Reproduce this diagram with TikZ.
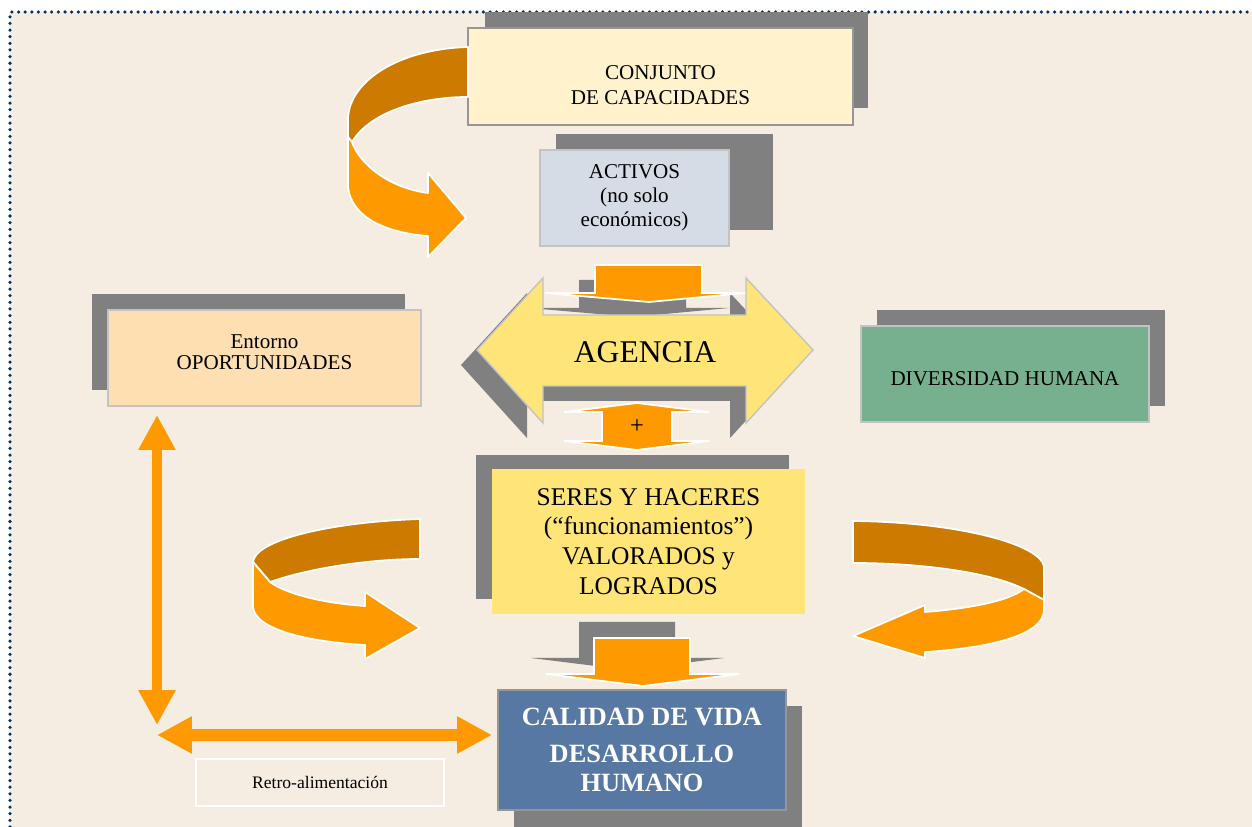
\documentclass[tikz,border=0pt]{standalone}
\usepackage{fontspec}
\setmainfont{Liberation Serif}
\usepackage{tikz}
\usetikzlibrary{arrows.meta}
\definecolor{bgbeige}{RGB}{245,237,225}
\definecolor{dotnavy}{RGB}{0,48,100}
\definecolor{shadowgrey}{RGB}{128,128,128}
\definecolor{borderline}{RGB}{150,150,150}
\definecolor{lightborder}{RGB}{195,195,195}
\definecolor{paleyellow}{RGB}{255,242,204}
\definecolor{palesteel}{RGB}{214,220,229}
\definecolor{peach}{RGB}{254,223,178}
\definecolor{sagegreen}{RGB}{118,176,142}
\definecolor{sunyellow}{RGB}{255,229,120}
\definecolor{slateblue}{RGB}{88,120,164}
\definecolor{brightorange}{RGB}{255,153,0}
\definecolor{darkorange}{RGB}{204,122,0}
\tikzset{
  base/.style={font=\fontsize{12}{14.4}\selectfont, align=center, inner sep=2pt, text=black},
  box/.style={base, rectangle, draw=borderline, line width=0.8pt},
  lightbox/.style={box, draw=lightborder},
  shadowfill/.style={fill=shadowgrey, draw=none},
  dotborder/.style={draw=dotnavy, line width=2pt, line cap=round, dash pattern=on 0pt off 3.78pt},
  agencyarr/.style={fill=sunyellow, draw=lightborder, line width=0.8pt, line join=miter},
  blockarr/.style={fill=brightorange, draw=white, line width=1pt},
  ribbonback/.style={fill=darkorange, draw=white, line width=1pt, line join=round},
  ribbonfront/.style={fill=brightorange, draw=white, line width=1pt, line join=round},
  fatarr/.style={draw=brightorange, line width=5.6pt, arrows={Triangle[length=0.7cm,width=0.7cm]-Triangle[length=0.7cm,width=0.7cm]}},
}

\begin{document}
\begin{tikzpicture}[x=0.02cm, y=-0.02cm]
  \useasboundingbox (0,0) rectangle (1252,827);
  \fill[bgbeige] (10,12) rectangle (1252,827);
  \draw[dotborder] (10,827) -- (10,12) -- (1252,12);

  % shadows behind the boxes
  \fill[shadowfill] (485,12) rectangle (868,108);
  \fill[shadowfill] (556,134) rectangle (773,230);
  \fill[shadowfill] (92,294) rectangle (405,390);
  \fill[shadowfill] (877,310) rectangle (1165,406);
  \fill[shadowfill] (476,455) rectangle (789,599);
  \fill[shadowfill] (514,706) rectangle (802,827);

  \node[box, fill=paleyellow, minimum width=7.7cm, minimum height=1.94cm] (conj) at (660.5,76.5) {\rule{0pt}{18pt}CONJUNTO\\DE CAPACIDADES};
  \node[lightbox, fill=palesteel, font=\fontsize{12}{13.6}\selectfont, minimum width=3.78cm, minimum height=1.92cm] (act) at (634.5,198) {ACTIVOS\\(no solo\\económicos)};
  \node[lightbox, fill=peach, minimum width=6.26cm, minimum height=1.92cm] (ent) at (264.5,358) {Entorno\\[-2pt]OPORTUNIDADES\rule[-6.8pt]{0pt}{0pt}};
  \node[lightbox, fill=sagegreen, minimum width=5.76cm, minimum height=1.92cm] (div) at (1005,374) {\rule{0pt}{13.5pt}DIVERSIDAD HUMANA};
  \node[base, fill=sunyellow, font=\fontsize{14.5}{17}\selectfont, minimum width=6.26cm, minimum height=2.9cm] (ser) at (648.5,541.5) {SERES Y HACERES\\(“funcionamientos”)\\VALORADOS y\\LOGRADOS};
  \node[box, fill=slateblue, text=white, font=\bfseries\fontsize{15}{17}\selectfont, minimum width=5.76cm, minimum height=2.4cm] (cal) at (642,750) {CALIDAD DE VIDA\\[4pt]DESARROLLO\\HUMANO};
  \node[base, draw=white, line width=1pt, font=\fontsize{10}{12}\selectfont, minimum width=4.96cm, minimum height=0.94cm] (retro) at (320,782.5) {Retro-alimentación};

  % block arrows round AGENCIA
  \filldraw[shadowfill, shift={(-16,15)}] (595,265) -- (702,265) -- (702,293) -- (745,293) -- (649,302) -- (545,293) -- (595,293) -- cycle;
  \foreach \dx/\dy/\sty in {-16/15/shadowfill,0/0/agencyarr}
    \filldraw[\sty, shift={(\dx,\dy)}] (477,350) -- (543,278) -- (543,315) -- (746,315) -- (746,278) -- (813,350) -- (746,423) -- (746,386) -- (543,386) -- (543,423) -- cycle;
  \filldraw[blockarr] (595,265) -- (702,265) -- (702,293) -- (745,293) -- (649,302) -- (545,293) -- (595,293) -- cycle;
  \filldraw[blockarr] (637,403) -- (709,412) -- (672,412) -- (672,441) -- (709,441) -- (637,450) -- (564,441) -- (602,441) -- (602,412) -- (564,412) -- cycle;
  \node[base, font=\fontsize{18}{20}\selectfont] (agencia) at (645,352) {AGENCIA};
  \node[base, font=\fontsize{14}{16}\selectfont] (plus) at (637,427) {+};

  \foreach \dx/\dy/\sty in {-15/-16/shadowfill,0/0/blockarr}
    \filldraw[\sty, shift={(\dx,\dy)}] (594,638) -- (690,638) -- (690,674) -- (739,674) -- (643,686) -- (546,674) -- (594,674) -- cycle;

  % curved ribbons
  \filldraw[ribbonback] (468,47) .. controls (400,49) and (350,80) .. (348,118) -- (348,137) -- (352,142) .. controls (370,112) and (420,97) .. (468,97) -- cycle;
  \filldraw[ribbonfront] (348,137) -- (348,187) .. controls (352,220) and (390,233) .. (428,236) -- (428,257) -- (466,218) -- (428,173) -- (428,193) .. controls (390,188) and (360,165) .. (352,142) -- cycle;

  \filldraw[ribbonback] (420,519) .. controls (330,522) and (255,540) .. (253,562) -- (270,582) .. controls (310,568) and (370,559) .. (420,559) -- cycle;
  \filldraw[ribbonfront] (253,562) -- (253,607) .. controls (255,630) and (310,642) .. (365,645) -- (365,659) -- (420,628) -- (365,592) -- (365,606) .. controls (320,603) and (285,593) .. (270,582) -- cycle;

  \filldraw[ribbonback] (853,521) .. controls (960,522) and (1042,545) .. (1044,567) -- (1044,600) -- (1024,589) .. controls (990,572) and (920,563) .. (853,563) -- cycle;
  \filldraw[ribbonfront] (1044,600) -- (1044,610) .. controls (1044,635) and (990,648) .. (925,652) -- (925,658) -- (853,636) -- (925,605) -- (925,612) .. controls (975,608) and (1010,600) .. (1024,589) -- cycle;

  % feedback arrows
  \coordinate (fbtop) at (157,415);
  \coordinate (fbcorner) at (157,725);
  \coordinate (fbleft) at (157,735);
  \coordinate (fbright) at (492,735);
  \draw[fatarr] (fbtop) -- (fbcorner);
  \draw[fatarr, line width=6.6pt] (fbleft) -- (fbright);
\end{tikzpicture}
\end{document}
